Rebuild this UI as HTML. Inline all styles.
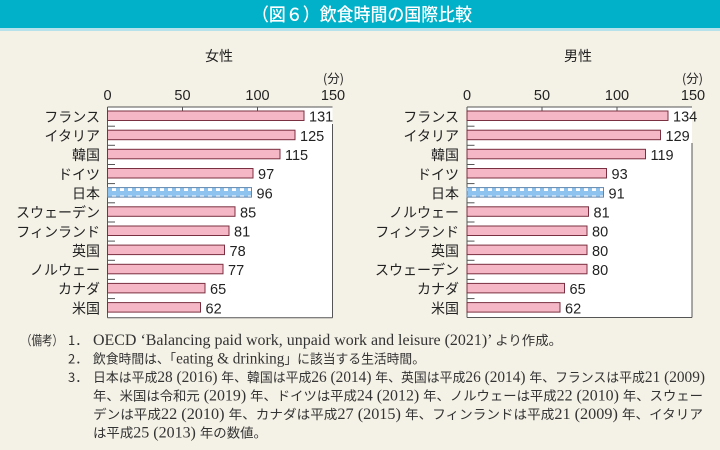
<!DOCTYPE html>
<html><head><meta charset="utf-8">
<style>
html,body{margin:0;padding:0;background:#f4f1e6;}
svg{display:block;}
.cat{font-family:"Noto Sans CJK JP","Liberation Sans",sans-serif;font-size:14px;fill:#222;text-anchor:end;}
.val{font-family:"Liberation Sans","Noto Sans CJK JP",sans-serif;font-size:14.5px;fill:#222;}
.ax{font-family:"Liberation Sans","Noto Sans CJK JP",sans-serif;font-size:14.5px;fill:#222;text-anchor:middle;}
.hd{font-family:"Noto Sans CJK JP",sans-serif;font-size:14px;fill:#222;text-anchor:middle;}
.unit{font-family:"Noto Sans CJK JP",sans-serif;font-size:12.5px;fill:#222;text-anchor:end;}
.note{font-family:"Noto Sans CJK JP",sans-serif;font-size:13px;fill:#333;}
.l{font-family:"Liberation Serif",serif;font-size:15.5px;}
.bar{fill:#f5b7c5;stroke:#7a3040;stroke-width:1;}
.jp{fill:url(#chk);stroke:#5f86ad;stroke-width:1;}
</style></head>
<body>
<svg width="720" height="450" viewBox="0 0 720 450" xmlns="http://www.w3.org/2000/svg">
<defs>
<pattern id="chk" patternUnits="userSpaceOnUse" x="0" y="0.5" width="8" height="8">
<rect width="8" height="8" fill="#8ec3ef"/>
<rect x="0" y="3" width="4" height="3.5" fill="#ffffff"/>
</pattern>
</defs>
<rect width="720" height="450" fill="#f4f1e6"/>
<rect x="0" y="0" width="720" height="28" fill="#00b1c9"/>
<rect x="0" y="28" width="720" height="3" fill="#b5e2eb"/>
<text x="252" y="21" textLength="220" lengthAdjust="spacingAndGlyphs" style="font-family:'Noto Sans CJK JP',sans-serif;font-size:18px;fill:#fff;font-weight:500;">（図６）飲食時間の国際比較</text>

<!-- LEFT CHART -->
<text class="hd" x="219" y="61">女性</text>
<text class="unit" x="344" y="83">(分)</text>
<text class="ax" x="107.5" y="100">0</text>
<text class="ax" x="182.5" y="100">50</text>
<text class="ax" x="257.5" y="100">100</text>
<text class="ax" x="333" y="100">150</text>
<rect x="107.5" y="107" width="225" height="210.8" fill="#fff"/>
<g stroke="#555" stroke-width="1" fill="none">
<line x1="107.5" y1="107" x2="332.5" y2="107"/>
<line x1="107.5" y1="107" x2="107.5" y2="317.8"/>
<line x1="107.5" y1="317.8" x2="332.5" y2="317.8"/>
<line x1="332.5" y1="124" x2="332.5" y2="317.8"/>
<line x1="182.5" y1="107" x2="182.5" y2="111"/>
<line x1="257.5" y1="107" x2="257.5" y2="111"/>
<line x1="107.5" y1="126.2" x2="115" y2="126.2"/>
<line x1="107.5" y1="145.3" x2="115" y2="145.3"/>
<line x1="107.5" y1="164.5" x2="115" y2="164.5"/>
<line x1="107.5" y1="183.6" x2="115" y2="183.6"/>
<line x1="107.5" y1="202.8" x2="115" y2="202.8"/>
<line x1="107.5" y1="222.0" x2="115" y2="222.0"/>
<line x1="107.5" y1="241.1" x2="115" y2="241.1"/>
<line x1="107.5" y1="260.3" x2="115" y2="260.3"/>
<line x1="107.5" y1="279.4" x2="115" y2="279.4"/>
<line x1="107.5" y1="298.6" x2="115" y2="298.6"/>
</g>
<rect class="bar" x="107.5" y="111" width="196.5" height="9.5"/>
<rect class="bar" x="107.5" y="130.2" width="187.5" height="9.5"/>
<rect class="bar" x="107.5" y="149.3" width="172.5" height="9.5"/>
<rect class="bar" x="107.5" y="168.5" width="145.5" height="9.5"/>
<rect class="jp" x="107.5" y="187.6" width="144" height="9.5"/>
<rect class="bar" x="107.5" y="206.8" width="127.5" height="9.5"/>
<rect class="bar" x="107.5" y="226.0" width="121.5" height="9.5"/>
<rect class="bar" x="107.5" y="245.1" width="117" height="9.5"/>
<rect class="bar" x="107.5" y="264.3" width="115.5" height="9.5"/>
<rect class="bar" x="107.5" y="283.4" width="97.5" height="9.5"/>
<rect class="bar" x="107.5" y="302.6" width="93" height="9.5"/>
<text class="val" x="309" y="121.7">131</text>
<text class="val" x="300" y="140.9">125</text>
<text class="val" x="285" y="160.0">115</text>
<text class="val" x="258" y="179.2">97</text>
<text class="val" x="256.5" y="198.3">96</text>
<text class="val" x="240" y="217.5">85</text>
<text class="val" x="234" y="236.7">81</text>
<text class="val" x="229.5" y="255.8">78</text>
<text class="val" x="228" y="275.0">77</text>
<text class="val" x="210" y="294.1">65</text>
<text class="val" x="205.5" y="313.3">62</text>
<text class="cat" x="100" y="121.8">フランス</text>
<text class="cat" x="100" y="141.0">イタリア</text>
<text class="cat" x="100" y="160.1">韓国</text>
<text class="cat" x="100" y="179.3">ドイツ</text>
<text class="cat" x="100" y="198.4">日本</text>
<text class="cat" x="100" y="217.6">スウェーデン</text>
<text class="cat" x="100" y="236.8">フィンランド</text>
<text class="cat" x="100" y="255.9">英国</text>
<text class="cat" x="100" y="275.1">ノルウェー</text>
<text class="cat" x="100" y="294.2">カナダ</text>
<text class="cat" x="100" y="313.4">米国</text>

<!-- RIGHT CHART -->
<text class="hd" x="578" y="61">男性</text>
<text class="unit" x="703" y="83">(分)</text>
<text class="ax" x="467" y="100">0</text>
<text class="ax" x="542" y="100">50</text>
<text class="ax" x="617" y="100">100</text>
<text class="ax" x="693" y="100">150</text>
<rect x="467" y="107" width="225" height="210.5" fill="#fff"/>
<g stroke="#555" stroke-width="1" fill="none">
<line x1="467" y1="107" x2="692" y2="107"/>
<line x1="467" y1="107" x2="467" y2="317.5"/>
<line x1="467" y1="317.5" x2="692" y2="317.5"/>
<line x1="692" y1="143" x2="692" y2="317.5"/>
<line x1="542" y1="107" x2="542" y2="111"/>
<line x1="617" y1="107" x2="617" y2="111"/>
<line x1="467" y1="126.2" x2="474.5" y2="126.2"/>
<line x1="467" y1="145.3" x2="474.5" y2="145.3"/>
<line x1="467" y1="164.5" x2="474.5" y2="164.5"/>
<line x1="467" y1="183.6" x2="474.5" y2="183.6"/>
<line x1="467" y1="202.8" x2="474.5" y2="202.8"/>
<line x1="467" y1="222.0" x2="474.5" y2="222.0"/>
<line x1="467" y1="241.1" x2="474.5" y2="241.1"/>
<line x1="467" y1="260.3" x2="474.5" y2="260.3"/>
<line x1="467" y1="279.4" x2="474.5" y2="279.4"/>
<line x1="467" y1="298.6" x2="474.5" y2="298.6"/>
</g>
<rect class="bar" x="467" y="111" width="201" height="9.5"/>
<rect class="bar" x="467" y="130.2" width="193.5" height="9.5"/>
<rect class="bar" x="467" y="149.3" width="178.5" height="9.5"/>
<rect class="bar" x="467" y="168.5" width="139.5" height="9.5"/>
<rect class="jp" x="467" y="187.6" width="136.5" height="9.5"/>
<rect class="bar" x="467" y="206.8" width="121.5" height="9.5"/>
<rect class="bar" x="467" y="226.0" width="120" height="9.5"/>
<rect class="bar" x="467" y="245.1" width="120" height="9.5"/>
<rect class="bar" x="467" y="264.3" width="120" height="9.5"/>
<rect class="bar" x="467" y="283.4" width="97.5" height="9.5"/>
<rect class="bar" x="467" y="302.6" width="93" height="9.5"/>
<text class="val" x="673" y="121.7">134</text>
<text class="val" x="665.5" y="140.9">129</text>
<text class="val" x="650.5" y="160.0">119</text>
<text class="val" x="611.5" y="179.2">93</text>
<text class="val" x="608.5" y="198.3">91</text>
<text class="val" x="593.5" y="217.5">81</text>
<text class="val" x="592" y="236.7">80</text>
<text class="val" x="592" y="255.8">80</text>
<text class="val" x="592" y="275.0">80</text>
<text class="val" x="569.5" y="294.1">65</text>
<text class="val" x="565" y="313.3">62</text>
<text class="cat" x="459" y="121.8">フランス</text>
<text class="cat" x="459" y="141.0">イタリア</text>
<text class="cat" x="459" y="160.1">韓国</text>
<text class="cat" x="459" y="179.3">ドイツ</text>
<text class="cat" x="459" y="198.4">日本</text>
<text class="cat" x="459" y="217.6">ノルウェー</text>
<text class="cat" x="459" y="236.8">フィンランド</text>
<text class="cat" x="459" y="255.9">英国</text>
<text class="cat" x="459" y="275.1">スウェーデン</text>
<text class="cat" x="459" y="294.2">カナダ</text>
<text class="cat" x="459" y="313.4">米国</text>

<!-- NOTES -->
<text class="note" x="21" y="345" textLength="42" lengthAdjust="spacingAndGlyphs">（備考）</text>
<text class="note" x="68" y="345">1．</text>
<text class="note" x="68" y="363.5">2．</text>
<text class="note" x="68" y="382">3．</text>
<text class="note" x="93" y="345" textLength="469" lengthAdjust="spacingAndGlyphs"><tspan class="l">OECD ‘Balancing paid work, unpaid work and leisure (2021)’ </tspan>より作成。</text>
<text class="note" x="93" y="363.5" textLength="332" lengthAdjust="spacingAndGlyphs">飲食時間は、「<tspan class="l">eating &amp; drinking</tspan>」に該当する生活時間。</text>
<text class="note" x="93" y="382" textLength="612" lengthAdjust="spacingAndGlyphs">日本は平成<tspan class="l">28 (2016) </tspan>年、韓国は平成<tspan class="l">26 (2014) </tspan>年、英国は平成<tspan class="l">26 (2014) </tspan>年、フランスは平成<tspan class="l">21 (2009)</tspan></text>
<text class="note" x="93" y="400.5" textLength="610" lengthAdjust="spacingAndGlyphs">年、米国は令和元<tspan class="l"> (2019) </tspan>年、ドイツは平成<tspan class="l">24 (2012) </tspan>年、ノルウェーは平成<tspan class="l">22 (2010) </tspan>年、スウェー</text>
<text class="note" x="93" y="419" textLength="610" lengthAdjust="spacingAndGlyphs">デンは平成<tspan class="l">22 (2010) </tspan>年、カナダは平成<tspan class="l">27 (2015) </tspan>年、フィンランドは平成<tspan class="l">21 (2009) </tspan>年、イタリア</text>
<text class="note" x="93" y="437.5" textLength="174" lengthAdjust="spacingAndGlyphs">は平成<tspan class="l">25 (2013) </tspan>年の数値。</text>
</svg>
</body></html>
